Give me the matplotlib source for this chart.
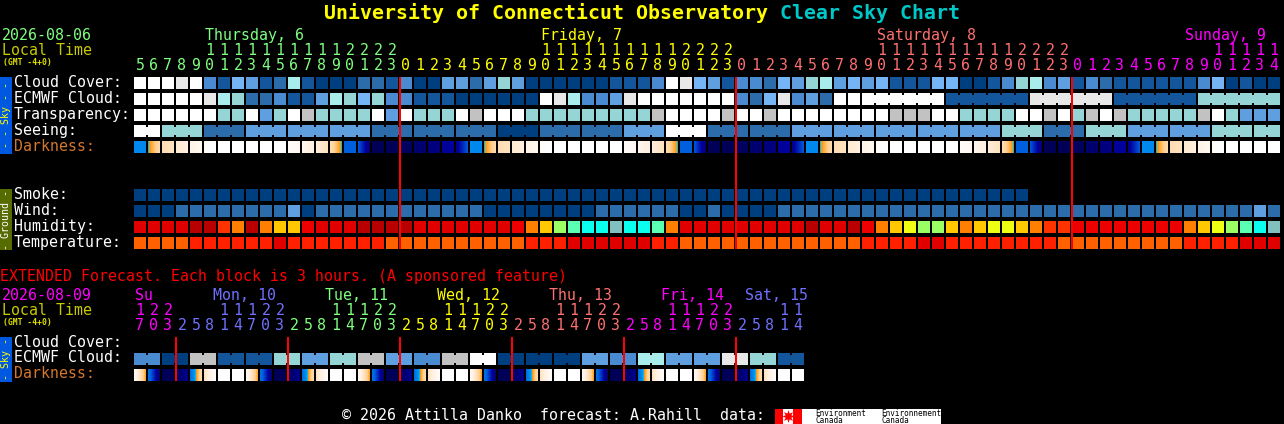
import matplotlib
matplotlib.use("Agg")
import matplotlib.pyplot as plt
from matplotlib.colors import LinearSegmentedColormap
from matplotlib.patches import Rectangle
import numpy as np

plt.rcParams["font.family"] = "DejaVu Sans Mono"

# sky colour levels, 0 = clear/dark blue ... 10 = white
sky_colors = ["#003f7f", "#13569b", "#2c6cab", "#4a8ad0", "#5f9fe0", "#75b5f5",
              "#95d5d5", "#a9ecec", "#c2c2c2", "#e8e8e8", "#ffffff"]
hum_colors = ["#b80000", "#e00000", "#ec0000", "#ff3300", "#ff8000", "#ffc800",
              "#eeff14", "#9bff64", "#5affb4", "#0affee", "#82c0c0"]
temp_colors = ["#e00000", "#ff2000", "#ff6000"]

GREEN, YELLOW, SALMON, MAGENTA, BLUE = "#80ff80", "#ffff00", "#ff7070", "#ff00ff", "#7070ff"

top_hours = list(range(5, 24)) + list(range(24)) + list(range(24)) + list(range(15))
top_day_sizes = [19, 24, 24, 15]
top_day_colors = [GREEN, YELLOW, SALMON, MAGENTA]
top_day_names = ["Thursday, 6", "Friday, 7", "Saturday, 8", "Sunday, 9"]
top_day_cols = [5, 29, 53, 75]
midnight_cols = [19, 43, 67]

cloud = [10, 10, 10, 9, 10, 3, 1, 5, 4, 1, 2, 7, 1, 0, 0, 0, 2, 2, 1,
         3, 0, 0, 4, 4, 2, 4, 6, 4, 0, 0, 0, 0, 0, 0, 1, 1, 1, 3, 10, 9, 5, 4, 1,
         3, 3, 2, 5, 4, 6, 7, 4, 5, 4, 5, 1, 1, 1, 5, 5, 0, 0, 1, 3, 6, 7, 3, 4,
         1, 3, 2, 1, 1, 1, 1, 1, 1, 3, 5, 0, 1, 0, 0]
ecmwf = [10, 10, 10, 10, 10, 9, 7, 6, 2, 2, 3, 1, 1, 4, 7, 6, 5, 6, 3,
         3, 1, 1, 1, 0, 0, 0, 0, 0, 0, 10, 9, 7, 3, 3, 4, 9, 10, 10, 10, 10, 10, 10, 10,
         3, 2, 5, 9, 3, 4, 2, 10, 10, 10, 1, 9, 1, 6]
ecmwf_sizes = [1] * 52 + [6] * 5
transparency = [10, 10, 10, 10, 10, 10, 6, 6, 10, 4, 6, 10, 8, 6, 6, 6, 6, 10, 4,
                10, 6, 6, 6, 10, 8, 10, 10, 10, 6, 6, 6, 6, 6, 6, 6, 6, 6, 8, 10, 10, 10, 10, 8,
                10, 10, 8, 10, 10, 10, 10, 10, 10, 10, 10, 8, 8, 8, 10, 10, 6, 6, 6, 6, 10, 10, 8, 10,
                6, 8, 10, 8, 6, 6, 6, 6, 6, 8, 10, 6, 4, 4, 4]
seeing = [10, 6, 2, 4, 4, 4, 2, 2, 2, 0, 2, 2, 4, 10, 2, 2, 4, 4, 4, 4, 4, 6, 2, 6, 4, 4, 6, 6]
seeing_sizes = [2] + [3] * 26 + [2]

dark_left = [3, 3.38, 4.4, 4.8, 5.2, 5.8, 6, 6, 6, 6, 6, 5.8, 5.4, 4.9, 4.4, 2, 1.9, .1, .1,
             .2, .4, .6, .9, .8, 3, 3.38, 4.4, 4.8, 5.2, 5.8, 6, 6, 6, 6, 6, 5.8, 5.4, 4.9, 4.4, 2, 1.9, .1, .1,
             .2, .4, .6, .9, .8, 3, 3.38, 4.4, 4.8, 5.2, 5.8, 6, 6, 6, 6, 6, 5.8, 5.4, 4.9, 4.4, 2, 1.9, .1, .1,
             .2, .4, .6, .9, .8, 3, 3.38, 4.4, 4.8, 5.2, 5.8, 6, 6, 6, 6]
dark_right = [3, 4.3, 4.6, 5, 5.5, 6, 6, 6, 6, 6, 6, 5.5, 5, 4.6, 3.38, 2, .5, .1, .1,
              .2, .4, .6, 1, 1.9, 3, 4.3, 4.6, 5, 5.5, 6, 6, 6, 6, 6, 6, 5.5, 5, 4.6, 3.38, 2, .5, .1, .1,
              .2, .4, .6, 1, 1.9, 3, 4.3, 4.6, 5, 5.5, 6, 6, 6, 6, 6, 6, 5.5, 5, 4.6, 3.38, 2, .5, .1, .1,
              .2, .4, .6, 1, 1.9, 3, 4.3, 4.6, 5, 5.5, 6, 6, 6, 6, 6]

smoke = [0] * 64
wind = [0, 0, 0, 2, 2, 2, 2, 2, 2, 2, 2, 4, 0, 2, 2, 2, 2, 2, 2,
        2, 2, 2, 2, 2, 2, 0, 0, 0, 0, 0, 0, 0, 0, 2, 2, 2, 2, 2, 2, 0, 0, 2, 0,
        0, 0, 0, 2, 2, 2, 2, 2, 2, 2, 2, 2, 2, 2, 2, 2, 2, 2, 2, 2, 2, 2, 2, 2,
        2, 2, 2, 2, 2, 2, 2, 2, 2, 2, 2, 2, 2, 4, 2]
humidity = [1, 1, 1, 1, 0, 0, 3, 4, 0, 4, 5, 5, 2, 1, 1, 1, 0, 0, 0,
            0, 1, 1, 1, 1, 1, 1, 1, 2, 4, 5, 7, 8, 9, 9, 10, 9, 9, 8, 4, 1, 1, 1, 1,
            1, 1, 1, 1, 1, 0, 1, 1, 0, 2, 4, 5, 6, 7, 7, 5, 4, 5, 6, 6, 5, 4, 3, 3,
            2, 2, 2, 2, 2, 2, 2, 2, 4, 5, 6, 7, 8, 9, 10]
temperature = [2, 2, 2, 2, 1, 1, 1, 1, 1, 1, 0, 1, 1, 1, 1, 1, 1, 1, 2,
               2, 2, 2, 2, 2, 2, 2, 2, 2, 1, 1, 1, 0, 0, 0, 0, 0, 0, 1, 1, 2, 2, 2, 2,
               2, 2, 2, 2, 2, 2, 2, 2, 2, 1, 1, 1, 1, 0, 0, 1, 1, 1, 1, 1, 1, 1, 1, 2,
               2, 2, 2, 2, 2, 2, 2, 2, 1, 1, 1, 1, 0, 0, 0]

ext_hours = [17, 20, 23] + [2, 5, 8, 11, 14, 17, 20, 23] * 5 + [2, 5, 8, 11, 14]
ext_day_sizes = [3, 8, 8, 8, 8, 8, 5]
ext_day_colors = [MAGENTA, BLUE, GREEN, YELLOW, SALMON, MAGENTA, BLUE]
ext_day_names = ["Su", "Mon, 10", "Tue, 11", "Wed, 12", "Thu, 13", "Fri, 14", "Sat, 15"]
ext_day_x = [135, 213, 325, 437, 549, 661, 745]
ext_midnight_cols = [3, 11, 19, 27, 35, 43]
ext_ecmwf = [3, 0, 8, 1, 1, 6, 4, 6, 8, 4, 3, 8, 10, 0, 0, 0, 4, 3, 7, 4, 4, 9, 6, 1]
ext_sizes = [2] * 24
ext_dark_left = [5.6, 2.4, .1, .2, 2.4, 4.6, 6, 6] * 5 + [5.6, 2.4, .1, .2, 2.4, 4.6, 6, 6]
ext_dark_right = [3.6, .4, .1, .8, 4.4, 5.8, 6, 6] * 5 + [3.6, .4, .1, .8, 4.4, 5.8, 6, 6]

dark_ramp = LinearSegmentedColormap.from_list("darkness", [
    (0 / 6, "#000050"), (1 / 6, "#0000a0"), (2 / 6, "#0060e0"), (3 / 6, "#0088f0"),
    (3.4 / 6, "#00c8e8"), (3.42 / 6, "#ff9000"), (4 / 6, "#ffd090"), (5 / 6, "#fff0e0"),
    (6 / 6, "#ffffff")], N=512)

LEFT, STEP, CELL = 134, 14, 12


def cell_x(i):
    return LEFT + STEP * i


def box(ax, x, y, w, h, color, z=2):
    ax.add_patch(Rectangle((x, y), w, h, facecolor=color, edgecolor="none",
                           antialiased=False, zorder=z))


def draw_row(ax, top, values, palette, sizes=None):
    if sizes is None:
        sizes = [1] * len(values)
    i = 0
    for v, size in zip(values, sizes):
        for k in range(size):
            box(ax, cell_x(i + k), top, CELL, CELL, palette[v])
            if k < size - 1:
                # narrow bridge between cells of one forecast block
                box(ax, cell_x(i + k) + CELL, top + 2, STEP - CELL, CELL - 4, palette[v])
        i += size


def draw_dark(ax, top, left, right):
    for i, (a, b) in enumerate(zip(left, right)):
        grad = np.linspace(a, b, CELL).reshape(1, -1)
        ax.imshow(grad, cmap=dark_ramp, vmin=0, vmax=6, aspect="auto", interpolation="nearest",
                  extent=(cell_x(i), cell_x(i) + CELL, top + CELL, top), zorder=2)


def label(ax, x, y, s, color="white", size=10.76, **kw):
    ax.text(x, y, s, color=color, fontsize=size, va="baseline", **kw)


def hour_digits(ax, hours, day_sizes, day_colors, tens_y, ones_y):
    i = 0
    for n, col in zip(day_sizes, day_colors):
        for h in hours[i:i + n]:
            if h >= 10:
                label(ax, cell_x(i) + 6, tens_y, str(h // 10), col, ha="center")
            label(ax, cell_x(i) + 6, ones_y, str(h % 10), col, ha="center")
            i += 1


fig = plt.figure(figsize=(12.84, 4.24), dpi=100, facecolor="black")
ax = fig.add_axes([0, 0, 1, 1])
ax.set_facecolor("black")

# title
ax.text(324, 19, "University of Connecticut Observatory", color="#ffff00", fontsize=14.35,
        fontweight="bold", va="baseline")
ax.text(780, 19, "Clear Sky Chart", color="#00c8c8", fontsize=14.35, fontweight="bold", va="baseline")

# top header
label(ax, 2, 40, "2026-08-06", GREEN)
label(ax, 2, 55, "Local Time", "#c8c800")
label(ax, 3, 65, "(GMT -4+0)", "#e0e000", size=5.75, fontweight="bold")
for name, col, color in zip(top_day_names, top_day_cols, top_day_colors):
    label(ax, cell_x(col) + 1, 40, name, color)
hour_digits(ax, top_hours, top_day_sizes, top_day_colors, 55, 70)

# sky block
row_names = ["Cloud Cover:", "ECMWF Cloud:", "Transparency:", "Seeing:"]
for n, name in enumerate(row_names):
    label(ax, 14, 87 + 16 * n, name)
label(ax, 14, 151, "Darkness:", "#d2772f")
draw_row(ax, 77, cloud, sky_colors)
draw_row(ax, 93, ecmwf, sky_colors, ecmwf_sizes)
draw_row(ax, 109, transparency, sky_colors)
draw_row(ax, 125, seeing, sky_colors, seeing_sizes)
draw_dark(ax, 141, dark_left, dark_right)
box(ax, 0, 77, 12, 77, "#0058e0")
ax.text(6, 115.5, "- - Sky - -", color="#ffff00", fontsize=7.2, rotation=90, ha="center", va="center", zorder=4)

# ground block
for n, name in enumerate(["Smoke:", "Wind:", "Humidity:", "Temperature:"]):
    label(ax, 14, 199 + 16 * n, name)
draw_row(ax, 189, smoke, sky_colors)
draw_row(ax, 205, wind, sky_colors)
draw_row(ax, 221, humidity, hum_colors)
draw_row(ax, 237, temperature, temp_colors)
box(ax, 0, 189, 12, 61, "#566b00")
ax.text(6, 219.5, "- Ground -", color="white", fontsize=7.2, rotation=90, ha="center", va="center", zorder=4)

for col in midnight_cols:
    box(ax, cell_x(col) - 1, 77, 2, 172, "#ff0000", z=3)

# extended forecast
label(ax, 0, 281, "EXTENDED Forecast. Each block is 3 hours. (A sponsored feature)", "#ff0000")
label(ax, 2, 300, "2026-08-09", MAGENTA)
label(ax, 2, 315, "Local Time", "#c8c800")
label(ax, 3, 325, "(GMT -4+0)", "#e0e000", size=5.75, fontweight="bold")
for name, x, color in zip(ext_day_names, ext_day_x, ext_day_colors):
    label(ax, x, 300, name, color)
hour_digits(ax, ext_hours, ext_day_sizes, ext_day_colors, 315, 330)

label(ax, 14, 347, "Cloud Cover:")
label(ax, 14, 362, "ECMWF Cloud:")
label(ax, 14, 378, "Darkness:", "#d2772f")
draw_row(ax, 353, ext_ecmwf, sky_colors, ext_sizes)
draw_dark(ax, 369, ext_dark_left, ext_dark_right)
box(ax, 0, 337, 12, 45, "#0058e0")
ax.text(6, 359.5, "- Sky -", color="#ffff00", fontsize=7.2, rotation=90, ha="center", va="center", zorder=4)
for col in ext_midnight_cols:
    box(ax, cell_x(col) - 1, 337, 2, 44, "#ff0000", z=3)

# footer
label(ax, 342, 420, "\u00a9 2026 Attilla Danko  forecast: A.Rahill  data:")
box(ax, 775, 409, 166, 15, "white")
box(ax, 775, 409, 8, 15, "#ff0000", z=3)
box(ax, 793, 409, 9, 15, "#ff0000", z=3)
ax.plot([788], [416], marker=(8, 1, 0), markersize=9, color="#ff0000", markeredgewidth=0, zorder=3)
box(ax, 787.5, 418, 1, 4, "#ff0000", z=3)
for x, word in [(815, "Environment"), (881, "Environnement")]:
    ax.text(x, 416, word, color="black", fontsize=5.5, va="baseline", zorder=4)
    ax.text(x, 423, "Canada", color="black", fontsize=5.5, va="baseline", zorder=4)

ax.set_xlim(0, 1284)
ax.set_ylim(424, 0)
ax.axis("off")
fig.savefig("out.png", dpi=100, facecolor="black")
